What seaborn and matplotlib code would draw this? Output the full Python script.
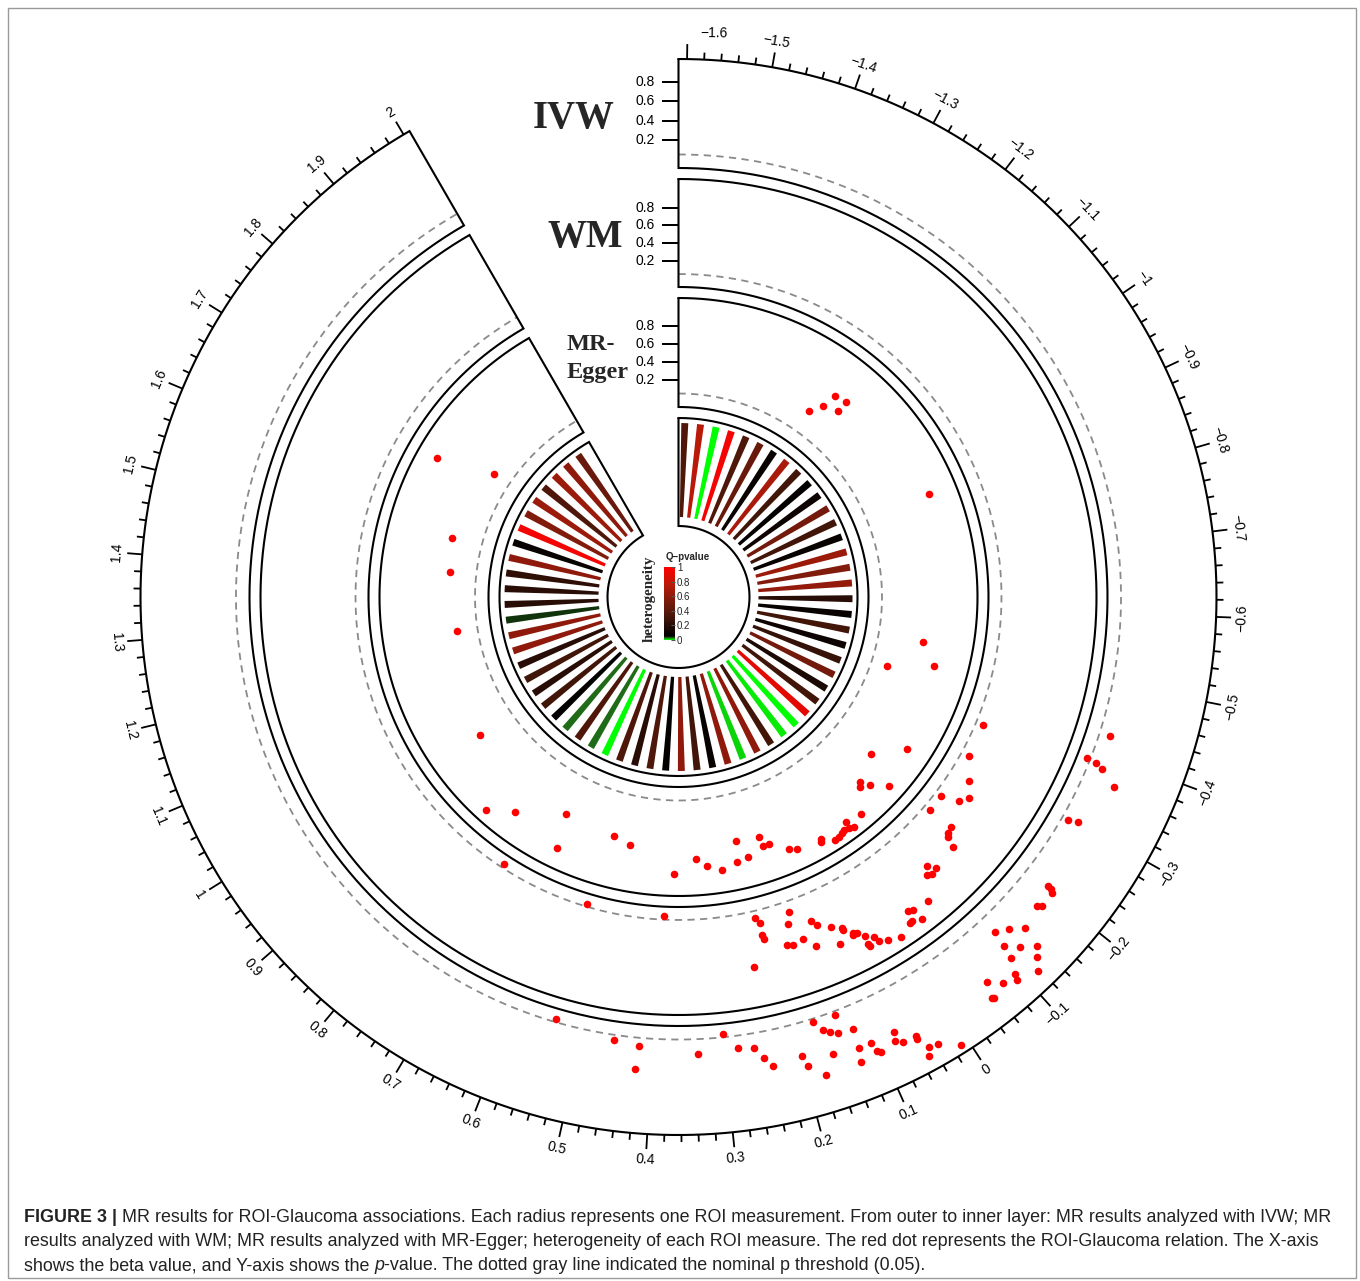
import numpy as np
import pandas as pd
import matplotlib
matplotlib.use("Agg")
import matplotlib.pyplot as plt
from matplotlib.colors import LinearSegmentedColormap
from matplotlib.patches import Rectangle
import seaborn as sns

sns.set_theme(style="white")
plt.rcParams['font.family'] = ['Liberation Sans', 'DejaVu Sans']
plt.rcParams['axes.unicode_minus'] = True

# ------------------------------------------------------------------ data
ivw_beta = [-0.428, -0.387, -0.385, -0.381, -0.365, -0.297, -0.301, -0.207, -0.203, -0.206,
            -0.177, -0.181, -0.113, -0.128, -0.144, -0.108, -0.122, -0.138, -0.104, -0.129,
            -0.095, -0.092, -0.118, -0.061, -0.076, -0.053, -0.056, 0.138, 0.171, 0.161,
            0.153, 0.143, 0.122, 0.300, 0.075, 0.078, 0.070, 0.052, 0.053, 0.044,
            0.033, 0.010, 0.050, 0.107, 0.125, 0.105, 0.100, 0.128, 0.159, 0.281,
            0.259, 0.248, 0.239, 0.198, 0.194, 0.175, 0.454, 0.418, 0.421, 0.337, 0.541]
ivw_p = [0.158, 0.019, 0.120, 0.204, 0.382, 0.114, 0.217, 0.323, 0.402, 0.366,
         0.366, 0.403, 0.239, 0.318, 0.427, 0.403, 0.533, 0.643, 0.547, 0.725,
         0.699, 0.759, 0.841, 0.582, 0.689, 0.733, 0.749, 0.087, 0.088, 0.195,
         0.240, 0.273, 0.295, 0.020, 0.496, 0.579, 0.632, 0.639, 0.671, 0.797,
         0.813, 0.950, 0.881, 0.495, 0.497, 0.594, 0.627, 0.642, 0.464, 0.175,
         0.206, 0.320, 0.421, 0.394, 0.509, 0.650, 0.102, 0.138, 0.375, 0.207, 0.018]

wm_beta = [-0.373, -0.309, -0.269, -0.216, -0.228, -0.242, -0.182, -0.182, -0.172, -0.166,
           -0.159, -0.105, -0.114, -0.094, -0.102, -0.068, -0.034, -0.041, -0.024, -0.029,
           -0.043, 0.151, 0.217, 0.210, 0.212, 0.210, 0.161, 0.119, 0.113, 0.091,
           0.075, 0.075, 0.062, 0.064, 0.057, 0.048, 0.050, 0.048, 0.036, 0.032,
           0.019, 0.000, 0.174, 0.164, 0.145, 0.128, 0.090, 0.237, 0.727, 0.545, 0.392]
wm_p = [0.129, 0.140, 0.284, 0.118, 0.315, 0.392, 0.129, 0.432, 0.452, 0.484,
        0.597, 0.537, 0.623, 0.615, 0.649, 0.850, 0.795, 0.823, 0.923, 0.912,
        0.966, 0.170, 0.132, 0.200, 0.334, 0.384, 0.297, 0.359, 0.422, 0.515,
        0.574, 0.599, 0.678, 0.704, 0.696, 0.769, 0.874, 0.900, 0.830, 0.903,
        0.943, 0.990, 0.520, 0.540, 0.515, 0.636, 0.729, 0.673, 0.009, 0.018, 0.013]

egger_beta = [-0.255, -0.193, -0.123, -0.115, -0.136, -0.163, -0.076, -0.040, -0.035, -0.046,
              -0.024, -0.017, -0.007, 0.005, 0.029, 0.032, 0.104, 0.087, 0.160, 0.157,
              0.143, 0.219, 0.200, 0.226, 0.265, 0.298, 1.679, 1.719, 1.511, 1.419,
              1.255, 0.969, 0.824, 0.771, 0.664, 0.647, 0.530, 0.485, 0.374, 0.321,
              -1.226, -1.204, -1.194, -1.164, -1.165, -0.867, -0.509, -0.457, -0.423]
egger_p = [0.839, 0.547, 0.667, 0.704, 0.766, 0.932, 0.939, 0.904, 0.977, 1.000,
           0.964, 0.983, 0.996, 1.000, 0.911, 0.943, 0.843, 0.881, 0.606, 0.709,
           0.708, 0.578, 0.779, 0.806, 0.857, 0.797, 0.881, 0.248, 0.390, 0.345,
           0.274, 0.469, 0.978, 0.787, 0.500, 0.887, 0.545, 0.592, 0.870, 0.702,
           0.308, 0.452, 0.614, 0.512, 0.649, 0.800, 0.553, 0.729, 0.230]

# heterogeneity Q p-value of each ROI (clockwise)
het_q = [0.35, 0.75, 0.00, 0.95, 0.35, 0.45, 0.08, 0.70, 0.30, 0.07,
         0.10, 0.50, 0.30, 0.08, 0.65, 0.55, 0.62, 0.20, 0.08, 0.30,
         0.10, 0.25, 0.50, 0.15, 0.30, 0.90, 0.00, 0.005, 0.30, 0.60,
         0.01, 0.60, 0.08, 0.30, 0.60, 0.07, 0.35, 0.20, 0.35, 0.002,
         0.03, 0.35, 0.03, 0.07, 0.30, 0.20, 0.30, 0.20, 0.60, 0.60,
         0.04, 0.20, 0.20, 0.22, 0.60, 0.08, 0.95, 0.55, 0.65, 0.35,
         0.65, 0.60, 0.45]

beta_major = np.round(np.arange(-1.6, 2.0 + 1e-9, 0.1), 1)
beta_minor = np.round(np.arange(-1.6, 2.0 + 1e-9, 0.02), 2)
p_ticks = [0.2, 0.4, 0.6, 0.8]
p_threshold = 0.05
legend_ticks = [0, 0.2, 0.4, 0.6, 0.8, 1]
legend_labels = ['0', '0.2', '0.4', '0.6', '0.8', '1']

q_breaks = [0, 0.025, 0.05, 0.2875, 0.525, 0.7625, 1.0]
q_colors = ['#00ff00', '#247719', '#000000', '#3f1509', '#7a1b0c', '#bb1909', '#ff0000']
cmap = LinearSegmentedColormap.from_list('qp', list(zip(q_breaks, q_colors)))

# ------------------------------------------------------------------ layout
W, H, DPI = 1360, 1281, 100
fig = plt.figure(figsize=(W / DPI, H / DPI), dpi=DPI, facecolor='white')


def fx(x):
    return x / W


def fy(y):
    return 1 - y / H


CX, CY, RLIM = 678.5, 597.0, 600.0
ax = fig.add_axes([fx(CX - RLIM), fy(CY + RLIM), 2 * RLIM / W, 2 * RLIM / H], projection='polar')
ax.set_theta_zero_location('N')
ax.set_theta_direction(-1)
ax.set_axis_off()

SPAN = 330.0
X_LO, X_HI = -1.61, 2.008


def beta_theta(b):
    return np.deg2rad((np.asarray(b, float) - X_LO) / (X_HI - X_LO) * SPAN)


TRACKS = {'IVW': (429, 538, -0.090, 1.037),
          'WM': (310, 418, -0.097, 1.126),
          'MR-Egger': (190, 299, -0.100, 1.111)}
HET_R = (71, 179)
HET_BAR = (80, 174)
HET_X = (0.6, 64.0)


def p_radius(track, p):
    r0, r1, y0, y1 = TRACKS[track]
    return r0 + (np.asarray(p, float) - y0) / (y1 - y0) * (r1 - r0)


arc = np.linspace(0, np.deg2rad(SPAN), 900)


def draw_cell(r0, r1):
    th = np.concatenate([arc, [arc[-1]], arc[::-1], [0]])
    rr = np.concatenate([np.full(arc.size, r1), [r0], np.full(arc.size, r0), [r1]])
    ax.plot(th, rr, color='black', lw=1.5, solid_joinstyle='miter', zorder=3)


for name, (r0, r1, y0, y1) in TRACKS.items():
    draw_cell(r0, r1)
    ax.plot(arc, np.full(arc.size, p_radius(name, p_threshold)), color='#8a8a8a',
            lw=1.3, ls=(0, (4, 3)), zorder=2)
    for v in p_ticks:
        rv = float(p_radius(name, v))
        ax.plot([0], [rv], marker=0, ms=12.2, mew=1.3, color='black', zorder=3)
        ax.annotate(f'{v:.1f}', xy=(0, rv), xytext=(-17.0, 0), textcoords='offset points',
                    ha='right', va='center', fontsize=10, color='black')

draw_cell(*HET_R)

# outer beta axis
R_AX = TRACKS['IVW'][1]
minor_mask = np.abs(beta_minor * 10 - np.round(beta_minor * 10)) > 1e-6
ax.vlines(beta_theta(beta_minor[minor_mask]), R_AX, R_AX + 7, color='black', lw=1.3)
ax.vlines(beta_theta(beta_major), R_AX, R_AX + 15, color='black', lw=1.3)


def fmt(v):
    if abs(v) < 1e-9:
        return '0'
    return f'{v:g}'.replace('-', '\u2212')


for i, v in enumerate(beta_major):
    th = float(beta_theta(v))
    deg = np.rad2deg(th)
    rot = ((-deg + 90) % 180) - 90
    ha = 'center'
    if i == 0:  # first label kept inside the sector
        th = th + np.deg2rad(1.3)
        ha = 'left'
    ax.text(th, R_AX + 26, fmt(v), rotation=rot, rotation_mode='anchor',
            ha=ha, va='center', fontsize=10, color='black')

# heterogeneity bars
het_k = np.arange(1, len(het_q) + 1)
het_theta = np.deg2rad((het_k - HET_X[0]) / (HET_X[1] - HET_X[0]) * SPAN)
ax.bar(het_theta, HET_BAR[1] - HET_BAR[0], bottom=HET_BAR[0], width=np.deg2rad(2.3),
       color=cmap(np.asarray(het_q)), edgecolor='none', linewidth=0, zorder=2)

# red dots
frames = []
for name, b, p in [('IVW', ivw_beta, ivw_p), ('WM', wm_beta, wm_p), ('MR-Egger', egger_beta, egger_p)]:
    frames.append(pd.DataFrame({'method': name, 'theta': beta_theta(b), 'radius': p_radius(name, p)}))
dots = pd.concat(frames, ignore_index=True)
sns.scatterplot(data=dots, x='theta', y='radius', color='#ff0000', s=30, linewidth=0,
                ax=ax, legend=False, zorder=5)
ax.set_ylim(0, RLIM)
ax.set_axis_off()

# track titles
serif = ['Liberation Serif', 'DejaVu Serif']
fig.text(fx(615), fy(128.3), 'IVW', ha='right', va='baseline', family=serif, weight='bold', fontsize=28)
fig.text(fx(623), fy(246.7), 'WM', ha='right', va='baseline', family=serif, weight='bold', fontsize=28)
fig.text(fx(567), fy(350), 'MR-', ha='left', va='baseline', family=serif, weight='bold', fontsize=17.5)
fig.text(fx(567), fy(378), 'Egger', ha='left', va='baseline', family=serif, weight='bold', fontsize=17.5)

# legend in the centre
fig.text(fx(649.3), fy(598.4), 'heterogeneity', rotation=90, ha='center', va='center',
         family=serif, weight='bold', fontsize=10.8)
fig.text(fx(665.5), fy(557.5), 'Q\u2212pvalue', ha='left', va='center', weight='bold', fontsize=7)
cax = fig.add_axes([fx(664.3), fy(640), 10.7 / W, 72.7 / H])
grad = np.linspace(0, 1, 256).reshape(-1, 1)
cax.imshow(grad, cmap=cmap, aspect='auto', origin='lower', extent=[0, 1, 0, 1])
cax.set_xticks([])
cax.set_yticks(legend_ticks)
cax.set_yticklabels(legend_labels)
cax.tick_params(axis='y', left=False, labelleft=False, right=True, labelright=True,
                direction='in', length=3, width=0.8, color='#555555', pad=1.5, labelsize=7)
for s in cax.spines.values():
    s.set_visible(False)

# frame and caption
fig.add_artist(Rectangle((fx(8), fy(1278)), 1348 / W, 1270 / H, transform=fig.transFigure,
                         fill=False, edgecolor='#9a9a9a', lw=1.0))

fig.canvas.draw()
renderer = fig.canvas.get_renderer()
FS = 12.9


def put_runs(x, y, runs):
    for text, kw in runs:
        t = fig.text(fx(x), fy(y), text, ha='left', va='center', fontsize=FS, color='#222222', **kw)
        bb = t.get_window_extent(renderer)
        x = bb.x1


put_runs(24, 1217, [('FIGURE 3 |', {'weight': 'bold'}),
                    (' MR results for ROI-Glaucoma associations. Each radius represents one ROI measurement. '
                     'From outer to inner layer: MR results analyzed with IVW; MR', {})])
put_runs(24, 1242, [('results analyzed with WM; MR results analyzed with MR-Egger; heterogeneity of each ROI '
                     'measure. The red dot represents the ROI-Glaucoma relation. The X-axis', {})])
put_runs(24, 1266, [('shows the beta value, and Y-axis shows the ', {}), ('p', {'style': 'italic'}),
                    ('-value. The dotted gray line indicated the nominal p threshold (0.05).', {})])

fig.savefig('out.png', dpi=DPI, facecolor='white')
